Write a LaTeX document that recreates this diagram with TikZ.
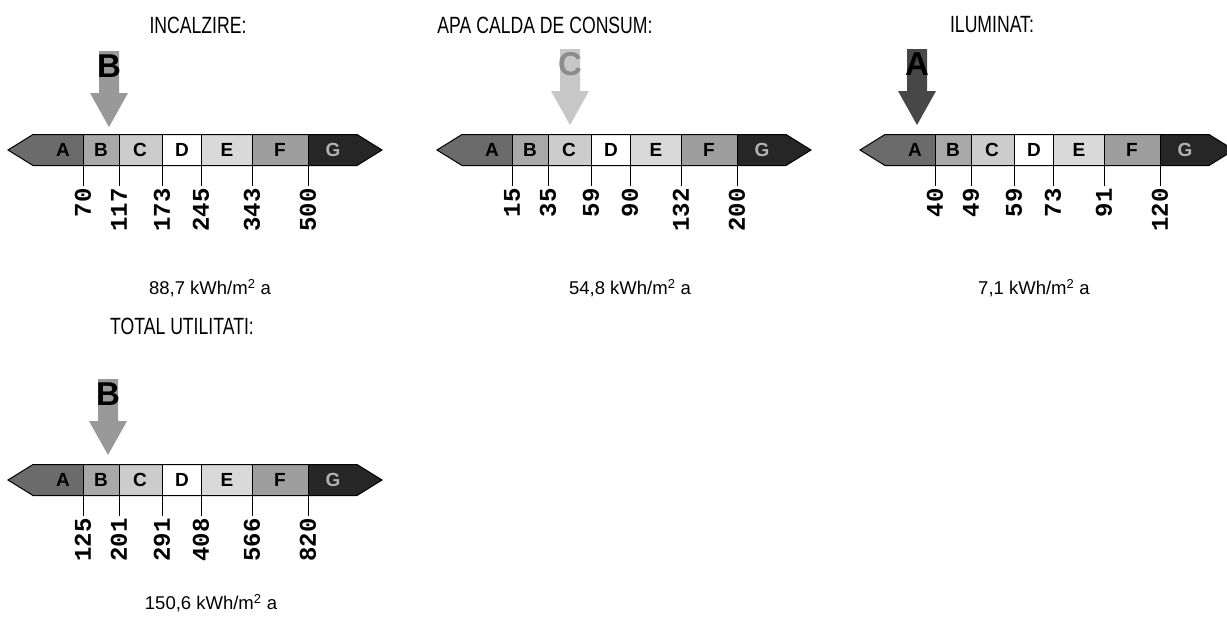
\documentclass[tikz,border=0pt]{standalone}
\usepackage{fontspec}
\setmainfont{Liberation Sans}
\newfontfamily\titlefont[FakeStretch=0.75]{Liberation Sans}
\newfontfamily\tickfont{Liberation Mono}
\definecolor{segAcol}{gray}{0.42}
\definecolor{segBcol}{gray}{0.66}
\definecolor{segCcol}{gray}{0.80}
\definecolor{segDcol}{gray}{1.00}
\definecolor{segEcol}{gray}{0.85}
\definecolor{segFcol}{gray}{0.62}
\definecolor{segGcol}{gray}{0.15}
\tikzset{
  titletext/.style={font=\titlefont\fontsize{23.5}{26}\selectfont, inner sep=0pt},
  valuetext/.style={font=\fontsize{18.5}{22}\selectfont, inner sep=0pt},
  segletter/.style={font=\bfseries\fontsize{19}{22}\selectfont, inner sep=0pt},
  ticklabel/.style={font=\tickfont\bfseries\fontsize{24}{26}\selectfont, rotate=90, anchor=east, inner sep=0pt},
  barline/.style={line width=1pt, black},
  tickline/.style={line width=1pt, black},
  arrowletter/.style={font=\bfseries\fontsize{33}{36}\selectfont, inner sep=0pt},
}
% #1 prefix, #2 x0, #3 yc, #4-#9 tick labels
\newcommand\energybar[9]{%
\begin{scope}[shift={(#2,#3)}]
  \fill[segAcol] (0,0) -- (25,-15.5) -- (75,-15.5) -- (75,15.5) -- (25,15.5) -- cycle;
  \fill[segBcol] (75,-15.5) rectangle (111,15.5);
  \fill[segCcol] (111,-15.5) rectangle (154,15.5);
  \fill[segDcol] (154,-15.5) rectangle (193,15.5);
  \fill[segEcol] (193,-15.5) rectangle (244,15.5);
  \fill[segFcol] (244,-15.5) rectangle (300,15.5);
  \fill[segGcol] (300,-15.5) -- (349,-15.5) -- (374,0) -- (349,15.5) -- (300,15.5) -- cycle;
  \draw[barline] (0,0) -- (25,-15.5) -- (349,-15.5) -- (374,0) -- (349,15.5) -- (25,15.5) -- cycle;
  \node[segletter] (#1A) at (55,0) {A};
  \node[segletter] (#1B) at (93,0) {B};
  \node[segletter] (#1C) at (132,0) {C};
  \node[segletter] (#1D) at (174,0) {D};
  \node[segletter] (#1E) at (219,0) {E};
  \node[segletter] (#1F) at (272,0) {F};
  \node[segletter, text=gray!60] (#1G) at (325,0) {G};
  \foreach \xx/\nn in {75/1,111/2,154/3,193/4,244/5,300/6}{
    \coordinate (#1top\nn) at (\xx,-15.5);
    \coordinate (#1end\nn) at (\xx,35.5);
    \draw[tickline] (#1top\nn) -- (#1end\nn);
  }
  \node[ticklabel] (#1l1) at (75,38) {#4};
  \node[ticklabel] (#1l2) at (111,38) {#5};
  \node[ticklabel] (#1l3) at (154,38) {#6};
  \node[ticklabel] (#1l4) at (193,38) {#7};
  \node[ticklabel] (#1l5) at (244,38) {#8};
  \node[ticklabel] (#1l6) at (300,38) {#9};
\end{scope}}
% #1 name, #2 tip x, #3 tip y, #4 fill, #5 letter, #6 letter colour
\newcommand\ratingarrow[6]{%
\begin{scope}[shift={(#2,#3)}]
  \fill[#4] (0,0) -- (-19,-34) -- (-10,-34) -- (-10,-76) -- (10,-76) -- (10,-34) -- (19,-34) -- cycle;
  \node[arrowletter, text=#6] (#1) at (0,-61) {#5};
\end{scope}}
\begin{document}
\begin{tikzpicture}[x=1pt, y=-1pt]
\useasboundingbox (0,0) rectangle (1227,627);
\fill[white] (0,0) rectangle (1227,627);
% titles
\node[titletext] (t1) at (198,25) {INCALZIRE:};
\node[titletext] (t2) at (545,25) {APA CALDA DE CONSUM:};
\node[titletext] (t3) at (992,25) {ILUMINAT:};
\node[titletext] (t4) at (182,326) {TOTAL UTILITATI:};
% arrows
\ratingarrow{r1}{109}{127}{black!40}{B}{black}
\ratingarrow{r2}{570}{125}{black!22}{C}{black!45}
\ratingarrow{r3}{917}{125}{black!72}{A}{black}
\ratingarrow{r4}{108}{455}{black!40}{B}{black}
% bars
\energybar{p1}{8}{150}{70}{117}{173}{245}{343}{500}
\energybar{p2}{437}{150}{15}{35}{59}{90}{132}{200}
\energybar{p3}{860}{150}{40}{49}{59}{73}{91}{120}
\energybar{p4}{8}{480}{125}{201}{291}{408}{566}{820}
% values
\node[valuetext] (v1) at (210,288) {88,7 kWh/m\textsuperscript{2} a};
\node[valuetext] (v2) at (630,288) {54,8 kWh/m\textsuperscript{2} a};
\node[valuetext] (v3) at (1034,288) {7,1 kWh/m\textsuperscript{2} a};
\node[valuetext] (v4) at (211,603) {150,6 kWh/m\textsuperscript{2} a};
\end{tikzpicture}
\end{document}
